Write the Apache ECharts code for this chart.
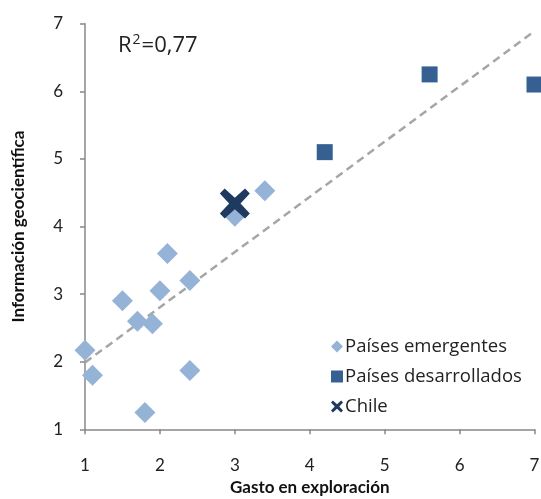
<!DOCTYPE html>
<html>
<head>
<meta charset="utf-8">
<script src="https://cdn.jsdelivr.net/npm/echarts@6/dist/echarts.min.js"></script>
<style>html,body{margin:0;padding:0;background:#fff}#c{width:541px;height:499px}</style>
</head>
<body>
<div id="c"></div>
<script>
var emergentesX = [1.0, 1.1, 1.8, 1.5, 1.7, 1.9, 2.0, 2.1, 2.4, 2.4, 3.0, 3.4];
var emergentesY = [2.17, 1.80, 1.25, 2.90, 2.60, 2.56, 3.05, 3.60, 3.20, 1.87, 4.15, 4.53];
var desarrolladosX = [4.2, 5.6, 7.0];
var desarrolladosY = [5.10, 6.25, 6.10];
var chileX = [3.0];
var chileY = [4.34];
var xTicks = [1, 2, 3, 4, 5, 6, 7];
var yTicks = [1, 2, 3, 4, 5, 6, 7];
var seriesNames = ['Países emergentes', 'Países desarrollados', 'Chile'];
var r2Parts = ['R', '2', '=0,77'];

function pairs(xs, ys) { return xs.map(function (x, i) { return [x, ys[i]]; }); }

// linear regression over emerging + developed countries
var allX = emergentesX.concat(desarrolladosX);
var allY = emergentesY.concat(desarrolladosY);
var n = allX.length, mx = 0, my = 0;
for (var i = 0; i < n; i++) { mx += allX[i]; my += allY[i]; }
mx /= n; my /= n;
var sxx = 0, sxy = 0;
for (var i = 0; i < n; i++) { sxx += (allX[i] - mx) * (allX[i] - mx); sxy += (allX[i] - mx) * (allY[i] - my); }
var slope = sxy / sxx, intercept = my - slope * mx;
var xMin = xTicks[0], xMax = xTicks[xTicks.length - 1];
var trend = [[xMin, intercept + slope * xMin], [xMax, intercept + slope * xMax]];

var xPath = 'path://M1.6,0 L5,3.1 L8.4,0 L10,1.7 L6.9,5 L10,8.3 L8.4,10 L5,6.9 L1.6,10 L0,8.3 L3.1,5 L0,1.7 Z';

var chart = echarts.init(document.getElementById('c'));
chart.setOption({
  animation: false,
  textStyle: { fontFamily: 'Lato' },
  grid: { left: 85, right: 6.5, top: 23.7, bottom: 69.7, containLabel: false, outerBoundsMode: 'none' },
  xAxis: {
    type: 'value', min: xMin, max: xMax, interval: 1,
    name: 'Gasto en exploración', nameLocation: 'middle', nameGap: 50,
    nameTextStyle: { fontWeight: 'bold', fontSize: 17, color: '#111', fontFamily: 'Lato' },
    axisLine: { show: true, onZero: false, lineStyle: { color: '#888', width: 1.5 } },
    axisTick: { show: true, length: 5, lineStyle: { color: '#888', width: 1.5 } },
    axisLabel: { fontSize: 17, color: '#222', margin: 28 },
    splitLine: { show: false }
  },
  yAxis: {
    type: 'value', min: yTicks[0], max: yTicks[yTicks.length - 1], interval: 1,
    name: 'Información geocientífica', nameLocation: 'middle', nameGap: 58,
    nameTextStyle: { fontWeight: 'bold', fontSize: 17, color: '#111', fontFamily: 'Lato' },
    axisLine: { show: true, onZero: false, lineStyle: { color: '#888', width: 1.5 } },
    axisTick: { show: true, length: 5, lineStyle: { color: '#888', width: 1.5 } },
    axisLabel: { fontSize: 17, color: '#222', margin: 22 },
    splitLine: { show: false }
  },
  legend: {
    orient: 'vertical', left: 326, top: 332, itemGap: 11,
    itemWidth: 12, itemHeight: 12,
    data: [
      { name: seriesNames[0], icon: 'diamond', itemStyle: { color: '#95B3D7' } },
      { name: seriesNames[1], icon: 'rect' },
      { name: seriesNames[2], icon: xPath }
    ],
    textStyle: { fontSize: 18.5, color: '#222', fontFamily: 'Open Sans', padding: [0, 0, 0, -3] }
  },
  graphic: [{
    type: 'text', left: 118, top: 33,
    style: {
      text: '{a|' + r2Parts[0] + '}{s|' + r2Parts[1] + '}{a|' + r2Parts[2] + '}',
      rich: {
        a: { fontSize: 22, fill: '#222', fontFamily: 'Open Sans', verticalAlign: 'bottom' },
        s: { fontSize: 14, fill: '#222', fontFamily: 'Open Sans', verticalAlign: 'top', padding: [0, 1, 10, 1] }
      }
    }
  }],
  series: [
    {
      name: 'trend', type: 'line', data: trend, showSymbol: false, symbol: 'none', silent: true,
      lineStyle: { color: '#A6A6A6', width: 2.5, type: [8, 5] }, z: 1
    },
    {
      name: seriesNames[0], type: 'scatter', data: pairs(emergentesX, emergentesY),
      symbol: 'diamond', symbolSize: 21, itemStyle: { color: '#95B3D7', opacity: 1 }, z: 2
    },
    {
      name: seriesNames[1], type: 'scatter', data: pairs(desarrolladosX, desarrolladosY),
      symbol: 'rect', symbolSize: 16, itemStyle: { color: '#366092', opacity: 1 }, z: 3
    },
    {
      name: seriesNames[2], type: 'scatter', data: pairs(chileX, chileY),
      symbol: xPath, symbolSize: 30, itemStyle: { color: '#1F3A5F', opacity: 1 }, z: 4
    }
  ]
});
</script>
</body>
</html>
